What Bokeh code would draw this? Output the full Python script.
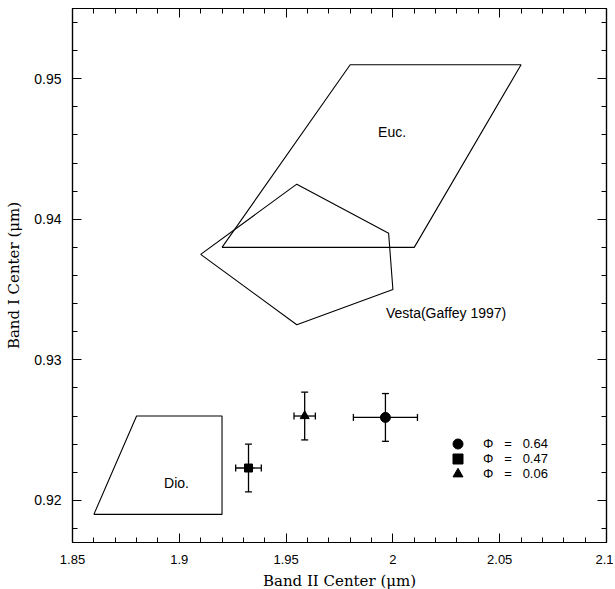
from bokeh.plotting import figure
from bokeh.models import (FixedTicker, LinearAxis, Whisker, TeeHead, ColumnDataSource,
                          Legend, LegendItem, Range1d, CustomLabelingPolicy)
from bokeh.core.properties import value
from bokeh.embed import file_html
from bokeh.resources import INLINE

# ---------------- data ----------------
x_ticks = [1.85, 1.9, 1.95, 2.0, 2.05, 2.1]
x_tick_labels = ["1.85", "1.9", "1.95", "2", "2.05", "2.1"]
x_minor = [1.86, 1.87, 1.88, 1.89, 1.91, 1.92, 1.93, 1.94, 1.96, 1.97, 1.98, 1.99,
           2.01, 2.02, 2.03, 2.04, 2.06, 2.07, 2.08, 2.09]
y_ticks = [0.92, 0.93, 0.94, 0.95]
y_tick_labels = ["0.92", "0.93", "0.94", "0.95"]
y_minor = [0.918, 0.922, 0.924, 0.926, 0.928, 0.932, 0.934, 0.936, 0.938,
           0.942, 0.944, 0.946, 0.948, 0.952, 0.954]

euc_x = [1.92, 2.01, 2.06, 1.98, 1.92]
euc_y = [0.938, 0.938, 0.951, 0.951, 0.938]
vesta_x = [1.91, 1.955, 1.998, 2.0, 1.955, 1.91]
vesta_y = [0.9375, 0.9425, 0.939, 0.935, 0.9325, 0.9375]
dio_x = [1.86, 1.92, 1.92, 1.88, 1.86]
dio_y = [0.919, 0.919, 0.926, 0.926, 0.919]

region_names = ["Euc.", "Vesta(Gaffey 1997)", "Dio."]
region_label_x = [1.9996, 2.0249, 1.8987]
region_label_y = [0.9462, 0.9333, 0.9212]

phase = [0.64, 0.47, 0.06]
band2 = [1.9965, 1.9324, 1.9587]
band2_err = [0.015, 0.006, 0.005]
band1 = [0.9259, 0.9223, 0.9260]
band1_err = [0.0017, 0.0017, 0.0017]
markers = ["circle", "square", "triangle"]
marker_sizes = [10, 8, 9]

# ---------------- figure ----------------
p = figure(frame_width=534, frame_height=534,
           x_range=Range1d(1.85, 2.1), y_range=Range1d(0.917, 0.955),
           output_backend="svg", toolbar_location=None,
           min_border_left=72, min_border_right=7, min_border_top=8, min_border_bottom=46)
p.xgrid.visible = False
p.ygrid.visible = False
p.outline_line_color = "black"
p.outline_line_width = 1.2
p.background_fill_color = "white"
p.border_fill_color = "white"

tick_font = "Liberation Sans"
title_font = "DejaVu Serif"


def style_axis(ax, ticks, minor, labels):
    ax.ticker = FixedTicker(ticks=ticks, minor_ticks=minor)
    ax.major_label_overrides = {t: l for t, l in zip(ticks, labels)}
    ax.major_tick_in = 9
    ax.major_tick_out = 0
    ax.minor_tick_in = 5
    ax.minor_tick_out = 0
    ax.axis_line_color = "black"
    ax.axis_line_width = 1.2
    ax.major_tick_line_color = "black"
    ax.minor_tick_line_color = "black"
    ax.major_label_text_font = tick_font
    ax.major_label_text_color = "black"
    ax.axis_label_text_font = title_font
    ax.axis_label_text_font_style = "normal"
    ax.axis_label_text_color = "black"
    ax.axis_label_text_font_size = "15px"


style_axis(p.xaxis[0], x_ticks, x_minor, x_tick_labels)
style_axis(p.yaxis[0], y_ticks, y_minor, y_tick_labels)
p.xaxis.major_label_text_font_size = "13px"
p.yaxis.major_label_text_font_size = "14px"
p.xaxis.major_label_standoff = 12
p.yaxis.major_label_standoff = 11
p.xaxis.axis_label = "Band II Center (μm)"
p.yaxis.axis_label = "Band I Center (μm)"
p.xaxis.axis_label_standoff = 5
p.yaxis.axis_label_standoff = 8

no_labels = CustomLabelingPolicy(code="return new Set()")
top = LinearAxis()
right = LinearAxis()
style_axis(top, x_ticks, x_minor, x_tick_labels)
style_axis(right, y_ticks, y_minor, y_tick_labels)
for ax in (top, right):
    ax.major_label_text_font_size = "1px"
    ax.major_label_standoff = 0
    ax.major_label_policy = no_labels
p.add_layout(top, "above")
p.add_layout(right, "right")

# regions
for xs, ys in ((euc_x, euc_y), (vesta_x, vesta_y), (dio_x, dio_y)):
    p.line(xs, ys, line_color="black", line_width=1.1)

p.text(x=region_label_x, y=region_label_y, text=region_names,
       text_font=value("Liberation Sans"), text_font_size="14px",
       text_align="center", text_baseline="middle", text_color="black")

# points with error bars
src = ColumnDataSource(dict(
    x=band2, y=band1,
    xl=[a - b for a, b in zip(band2, band2_err)],
    xu=[a + b for a, b in zip(band2, band2_err)],
    yl=[a - b for a, b in zip(band1, band1_err)],
    yu=[a + b for a, b in zip(band1, band1_err)],
    marker=markers, size=marker_sizes,
))
for dim, base, lo, hi in (("height", "x", "yl", "yu"), ("width", "y", "xl", "xu")):
    w = Whisker(source=src, base=base, lower=lo, upper=hi, dimension=dim,
                line_color="black", line_width=1.3,
                lower_head=TeeHead(size=7, line_color="black", line_width=1.3),
                upper_head=TeeHead(size=7, line_color="black", line_width=1.3))
    p.add_layout(w)

r = p.scatter(x="x", y="y", marker="marker", size="size", source=src,
              fill_color="black", line_color="black")

# one single-item legend per phase, stacked 15 px apart
for i, ph in enumerate(phase):
    item = LegendItem(label="Φ   =   %.2f" % ph, renderers=[r], index=i)
    lg = Legend(items=[item], location=(373, 86.5 - 15 * i), orientation="vertical",
                glyph_width=25, glyph_height=25, label_height=25, spacing=0,
                padding=0, margin=0, label_standoff=13,
                label_text_font="Liberation Sans", label_text_font_size="13px",
                label_text_color="black",
                border_line_color=None, background_fill_alpha=0)
    p.add_layout(lg, "center")

open("out.html", "w").write(file_html(p, INLINE))
